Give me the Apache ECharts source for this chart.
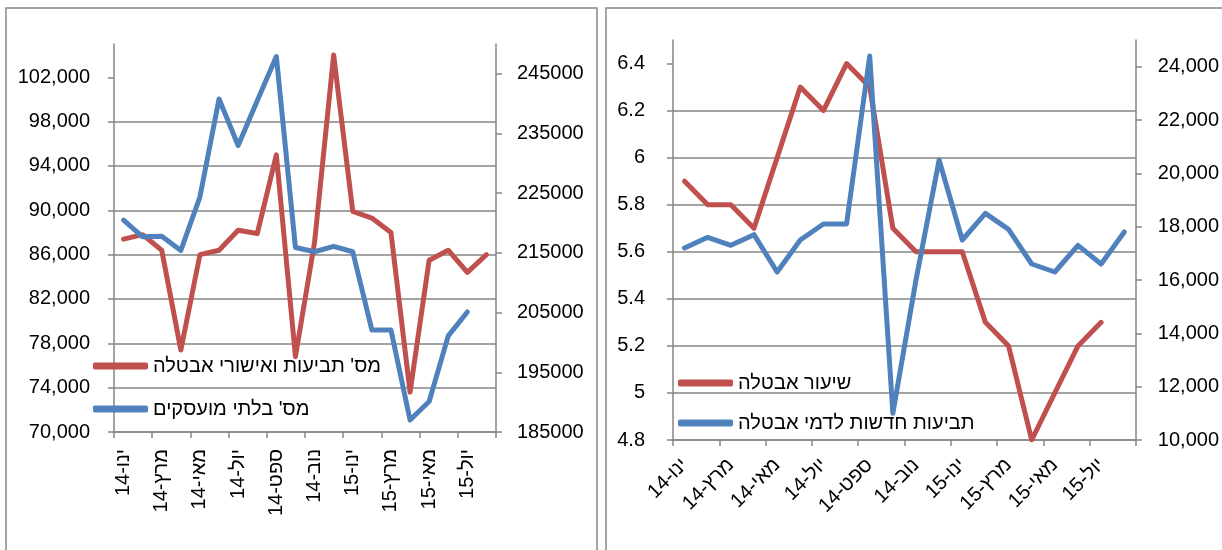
<!DOCTYPE html>
<html><head><meta charset="utf-8">
<script src="https://cdn.jsdelivr.net/npm/echarts@6/dist/echarts.min.js"></script>
<style>html,body{margin:0;padding:0;background:#fff}#c{width:1222px;height:550px}</style>
</head><body><div id="c"></div>
<script>
// ---- data ----
const categories = ['ינו-14','פבר-14','מרץ-14','אפר-14','מאי-14','יונ-14','יול-14','אוג-14','ספט-14','אוק-14','נוב-14','דצמ-14',
                    'ינו-15','פבר-15','מרץ-15','אפר-15','מאי-15','יונ-15','יול-15','אוג-15'];
// left panel
const claimsName = "מס' תביעות ואישורי אבטלה";
const unemployedName = "מס' בלתי מועסקים";
const claimsApprovals = [87400, 87800, 86400, 77400, 86000, 86400, 88200, 87900, 95000, 76800,
                         87100, 104000, 89900, 89300, 88000, 73600, 85500, 86400, 84400, 86000];
const unemployedCount = [220500, 217700, 217800, 215400, 224400, 240800, 233000, 240500, 247900, 215900,
                         215200, 216100, 215200, 202100, 202100, 187000, 190100, 201100, 205100];
const leftAxisTicks = [70000, 74000, 78000, 82000, 86000, 90000, 94000, 98000, 102000];
const leftRightAxisTicks = [185000, 195000, 205000, 215000, 225000, 235000, 245000];
// right panel
const rateName = 'שיעור אבטלה';
const newClaimsName = 'תביעות חדשות לדמי אבטלה';
const unemploymentRate = [5.9, 5.8, 5.8, 5.7, 6.0, 6.3, 6.2, 6.4, 6.3, 5.7,
                          5.6, 5.6, 5.6, 5.3, 5.2, 4.8, 5.0, 5.2, 5.3];
const newClaims = [17200, 17600, 17300, 17700, 16300, 17500, 18100, 18100, 24400, 11000,
                   16000, 20500, 17500, 18500, 17900, 16600, 16300, 17300, 16600, 17800];
const rateTicks = [4.8, 5.0, 5.2, 5.4, 5.6, 5.8, 6.0, 6.2, 6.4];
const newClaimsTicks = [10000, 12000, 14000, 16000, 18000, 20000, 22000, 24000];

// ---- styles ----
const FONT = '"Liberation Sans", Arial, "DejaVu Sans", sans-serif';
const AX = '#868686';
const RED = '#C0504D', BLUE = '#4F81BD';
const fmtComma = v => Math.round(v).toLocaleString('en-US');

function xAx(grid, rotate, margin) {
  return {
    type: 'category', gridIndex: grid, data: categories, boundaryGap: true,
    axisLine: { show: true, lineStyle: { color: AX, width: 1.5 } },
    axisTick: { show: true, interval: 1, length: 6, lineStyle: { color: AX, width: 1.5 } },
    axisLabel: { interval: 1, rotate: rotate, margin: margin, fontSize: 20, color: '#000', fontFamily: FONT },
    splitLine: { show: false }
  };
}
function yAx(grid, pos, min, max, interval, ticks, fmt, margin, grid_lines) {
  return {
    type: 'value', gridIndex: grid, position: pos, min: min, max: max, interval: interval,
    axisLine: { show: true, lineStyle: { color: AX, width: 1.5 } },
    axisTick: { show: true, length: 6, customValues: ticks, lineStyle: { color: AX, width: 1.5 } },
    axisLabel: { customValues: ticks, formatter: fmt, margin: margin,
                 fontSize: 20, color: '#000', fontFamily: FONT },
    splitLine: { show: grid_lines, showMaxLine: false, lineStyle: { color: AX, width: 1.5 } }
  };
}
function line(name, xi, yi, data, color) {
  return {
    name: name, type: 'line', xAxisIndex: xi, yAxisIndex: yi, data: data,
    symbol: 'none', showSymbol: false, smooth: false, color: color,
    lineStyle: { color: color, width: 5, join: 'round', cap: 'round' },
    emphasis: { disabled: true }
  };
}
const legendBase = {
  orient: 'vertical', icon: 'roundRect', itemWidth: 55, itemHeight: 7, padding: 0,
  textStyle: { fontSize: 20, color: '#000', fontFamily: FONT }, selectedMode: false
};

const chart = echarts.init(document.getElementById('c'), null, { renderer: 'canvas' });
chart.setOption({
  animation: false,
  backgroundColor: '#fff',
  textStyle: { fontFamily: FONT },
  grid: [
    { left: 114, top: 44, width: 382, height: 388 },
    { left: 673, top: 40, width: 463, height: 400 }
  ],
  xAxis: [ xAx(0, 90, 17), xAx(1, 45, 22) ],
  yAxis: [
    yAx(0, 'left', 70000, 105000, 4000, leftAxisTicks, fmtComma, 24, true),
    yAx(0, 'right', 185000, 250000, 10000, leftRightAxisTicks, v => String(v), 21, false),
    yAx(1, 'left', 4.8, 6.5, 0.2, rateTicks, v => (Math.round(v * 10) / 10).toString(), 28, true),
    yAx(1, 'right', 10000, 25000, 2000, newClaimsTicks, fmtComma, 22, false)
  ],
  legend: [
    Object.assign({}, legendBase, { left: 93, top: 356, itemGap: 23, data: [claimsName, unemployedName] }),
    Object.assign({}, legendBase, { left: 678, top: 373, itemGap: 20, data: [rateName, newClaimsName] })
  ],
  series: [
    line(claimsName, 0, 0, claimsApprovals, RED),
    line(unemployedName, 0, 1, unemployedCount, BLUE),
    line(rateName, 1, 2, unemploymentRate, RED),
    line(newClaimsName, 1, 3, newClaims, BLUE)
  ],
  graphic: [
    { type: 'rect', shape: { x: 6, y: 8, width: 591, height: 560 }, style: { fill: null, stroke: AX, lineWidth: 1.5 }, silent: true },
    { type: 'rect', shape: { x: 606, y: 8, width: 640, height: 560 }, style: { fill: null, stroke: AX, lineWidth: 1.5 }, silent: true }
  ]
});
</script></body></html>
